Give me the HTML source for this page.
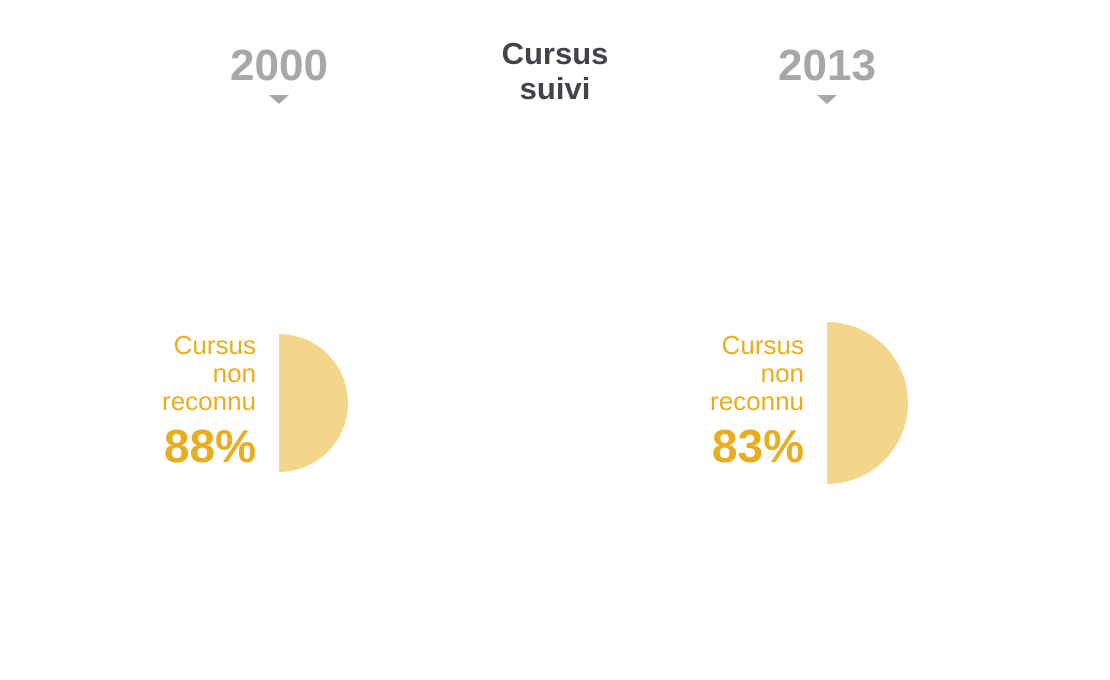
<!DOCTYPE html>
<html><head><meta charset="utf-8"><style>
html,body{margin:0;padding:0;background:#fff;}
svg{display:block;font-family:"Liberation Sans",sans-serif;}
</style></head><body>
<svg id="chart" width="1110" height="680" viewBox="0 0 1110 680">
<text x="555" y="64" text-anchor="middle" font-size="31" font-weight="bold" fill="#414449">Cursus</text>
<text x="555" y="99" text-anchor="middle" font-size="31" font-weight="bold" fill="#414449">suivi</text>
<g id="marks"></g>
</svg>
<script>
const years = ["2000", "2013"];
const percents = [88, 83];
const totals = [100, 138];
const label = ["Cursus", "non", "reconnu"];
const NS = "http://www.w3.org/2000/svg";
const g = document.getElementById("marks");
const colX = i => 279 + i * 548;
const rScale = t => 69 * Math.sqrt(t / 100);
function mk(tag, attrs){const e=document.createElementNS(NS,tag);for(const k in attrs)e.setAttribute(k,attrs[k]);return e;}
years.forEach((yr,i)=>{
  const cx = colX(i), cy = 403, r = rScale(totals[i]);
  const t = mk("text",{x:cx,y:80,"text-anchor":"middle","font-size":44,"font-weight":"bold",fill:"#a6a7a9"});
  t.textContent = yr;
  
  
  g.appendChild(t);
  const tri = mk("path",{d:`M${cx-10},95 L${cx+10},95 L${cx},104 Z`,fill:"#a6a7a9"});
  
  
  g.appendChild(tri);
  const arc = mk("path",{d:`M${cx},${cy-r} A${r},${r} 0 0 1 ${cx},${cy+r} Z`,fill:"#f4d68b"});
  
  
  g.appendChild(arc);
  const tx = cx - 23;
  label.forEach((w,j)=>{
    const l = mk("text",{x:tx,y:cy-49+j*28,"text-anchor":"end","font-size":26,fill:"#e8ae20"});
    l.textContent = w;
    
    
    g.appendChild(l);
  });
  const p = mk("text",{x:tx,y:cy+59,"text-anchor":"end","font-size":46,"font-weight":"bold",fill:"#e8ae20"});
  p.textContent = percents[i] + "%";
  
  
  g.appendChild(p);
});
</script>
</body></html>
